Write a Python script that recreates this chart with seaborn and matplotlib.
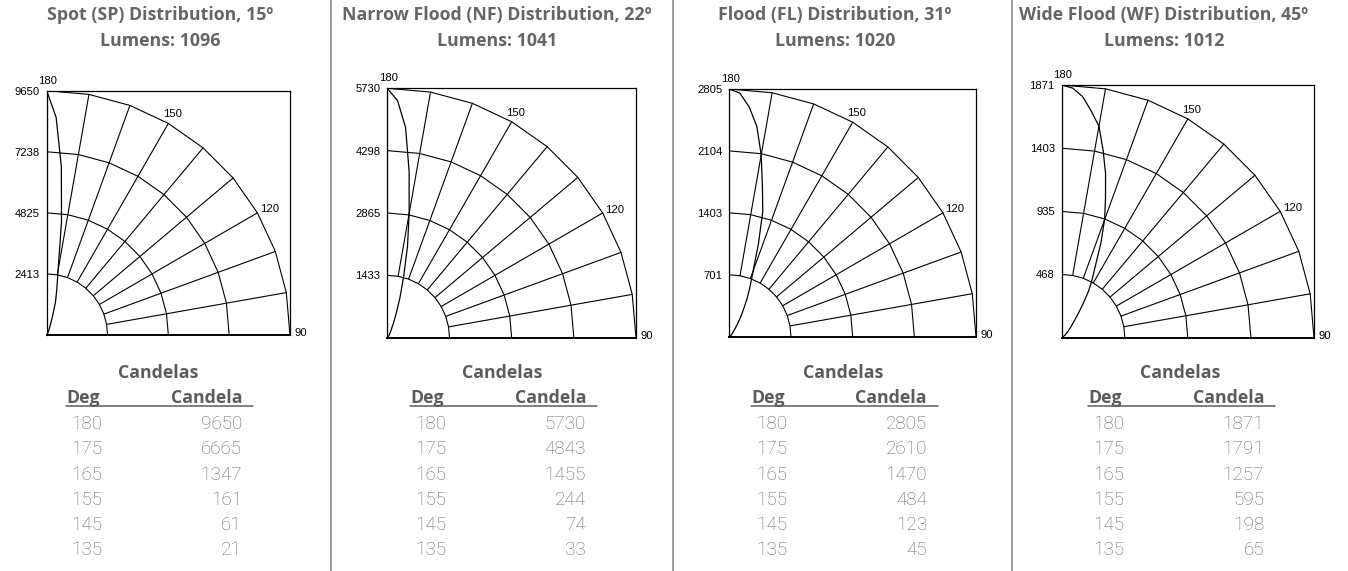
import numpy as np
import pandas as pd
import matplotlib
matplotlib.use("Agg")
import matplotlib.pyplot as plt
import seaborn as sns
from matplotlib.lines import Line2D

# ---------------- data ----------------
titles = ["Spot (SP) Distribution, 15º",
          "Narrow Flood (NF) Distribution, 22º",
          "Flood (FL) Distribution, 31º",
          "Wide Flood (WF) Distribution, 45º"]
lumens = [1096, 1041, 1020, 1012]

table_deg = [180, 175, 165, 155, 145, 135]
sp_candela = [9650, 6665, 1347, 161, 61, 21]
nf_candela = [5730, 4843, 1455, 244, 74, 33]
fl_candela = [2805, 2610, 1470, 484, 123, 45]
wf_candela = [1871, 1791, 1257, 595, 198, 65]

# photometric curves: table values plus values
curve_deg = [180, 177.5, 175, 172.5, 170, 167.5, 165, 162.5, 160, 157.5, 155,
             152.5, 150, 147.5, 145, 140, 135, 130, 120, 110, 100, 90]
sp_curve = [9650, 8600, 6665, 4500, 2600, 1850, 1347, 750, 420, 260, 161,
            120, 95, 75, 61, 35, 21, 12, 6, 3, 1, 0]
nf_curve = [5730, 5450, 4843, 3850, 2900, 2150, 1455, 980, 620, 390, 244,
            175, 130, 95, 74, 49, 33, 18, 8, 4, 1, 0]
fl_curve = [2805, 2760, 2610, 2400, 2090, 1740, 1470, 1100, 790, 620, 484,
            350, 260, 180, 123, 65, 45, 25, 10, 4, 1, 0]
wf_curve = [1871, 1850, 1791, 1690, 1590, 1420, 1257, 1080, 930, 760, 595,
            490, 400, 290, 198, 110, 65, 35, 12, 5, 1, 0]

# ring (tick) values for each polar grid
sp_rings = [2413, 4825, 7238, 9650]
nf_rings = [1433, 2865, 4298, 5730]
fl_rings = [701, 1403, 2104, 2805]
wf_rings = [468, 935, 1403, 1871]

grid_deg = [90, 100, 110, 120, 130, 140, 150, 160, 170, 180]
angle_labels = [180, 150, 120, 90]

tables = [sp_candela, nf_candela, fl_candela, wf_candela]
curves = [sp_curve, nf_curve, fl_curve, wf_curve]
rings = [sp_rings, nf_rings, fl_rings, wf_rings]

# ---------------- layout (pixels) ----------------
W, H = 1348, 571
sns.set_theme(style="white")
plt.rcParams["font.family"] = ["Liberation Sans", "DejaVu Sans"]

fig = plt.figure(figsize=(W / 100, H / 100), dpi=100)
fig.patch.set_facecolor("white")


def fx(px):
    return px / W


def fy(py):
    return 1 - py / H


boxes = [(46.7, 90.7, 290.0, 335.0),
         (387.3, 88.3, 636.0, 337.7),
         (729.3, 89.0, 976.0, 336.7),
         (1061.7, 85.0, 1314.0, 337.7)]
title_cx = [160, 497, 835, 1164]
deg_left = [66, 410, 751, 1088]
separators = [331, 673, 1012]

label_offsets = {180: (1, 10), 150: (4, 9), 120: (12, 3.5), 90: (11, 2)}

TITLE_COL = "#656565"
HEAD_COL = "#5c5c5c"
VAL_COL = "#686868"
title_font = dict(family=["Open Sans", "DejaVu Sans"], weight="bold")
val_font = dict(family=["Roboto", "DejaVu Sans"], weight="light")
AX_FS = 8.1


def polar_xy(deg, r):
    phi = np.radians(np.asarray(deg, dtype=float) - 90.0)
    r = np.asarray(r, dtype=float)
    return r * np.cos(phi), r * np.sin(phi)


for i in range(4):
    l, t, r_, b = boxes[i]
    ax = fig.add_axes([fx(l), fy(b), fx(r_ - l), (b - t) / H])
    rg = rings[i]
    rmax = rg[-1]

    # arcs (polylines through the 10-degree vertices)
    for rv in rg:
        x, y = polar_xy(grid_deg, [rv] * len(grid_deg))
        ax.plot(x, y, color="black", lw=0.8, solid_joinstyle="miter")
    # radial lines
    for d in grid_deg:
        x, y = polar_xy([d, d], [rg[0], rmax])
        ax.plot(x, y, color="black", lw=0.8)

    # candela curve
    cx, cy = polar_xy(curve_deg, curves[i])
    df = pd.DataFrame({"x": cx, "y": cy})
    sns.lineplot(data=df, x="x", y="y", sort=False, estimator=None,
                 color="black", lw=0.9, ax=ax)

    ax.set_xlim(0, rmax)
    ax.set_ylim(0, rmax)
    ax.set_xticks([])
    ax.set_yticks(rg)
    ax.set_yticklabels([str(v) for v in rg], fontsize=AX_FS, color="black")
    ax.tick_params(axis="y", length=0, pad=5.0)
    ax.set_xlabel("")
    ax.set_ylabel("")
    for s in ax.spines.values():
        s.set_visible(True)
        s.set_color("black")
        s.set_linewidth(0.9)
    ax.spines["bottom"].set_linewidth(1.4)

    for a in angle_labels:
        px, py = polar_xy([a], [rmax])
        dx, dy = label_offsets[a]
        ax.annotate(str(a), (px[0], py[0]), xytext=(dx, dy),
                    textcoords="offset pixels", ha="center", va="center",
                    fontsize=AX_FS, color="black", annotation_clip=False)

    # titles
    cxp = title_cx[i]
    fig.text(fx(cxp), fy(20), titles[i], ha="center", va="baseline",
             fontsize=12.8, color=TITLE_COL, **title_font)
    fig.text(fx(cxp), fy(45.7), f"Lumens: {lumens[i]}", ha="center",
             va="baseline", fontsize=12.8, color=TITLE_COL, **title_font)

    # table
    dl = deg_left[i]
    fig.text(fx(dl + 92), fy(377.7), "Candelas", ha="center", va="baseline",
             fontsize=12.8, color=HEAD_COL, **title_font)
    fig.text(fx(dl), fy(402.7), "Deg", ha="left", va="baseline",
             fontsize=12.8, color=HEAD_COL, **title_font)
    fig.text(fx(dl + 176), fy(402.7), "Candela", ha="right", va="baseline",
             fontsize=12.8, color=HEAD_COL, **title_font)
    fig.add_artist(Line2D([fx(dl), fx(dl + 187)], [fy(406), fy(406)],
                          transform=fig.transFigure, color="#5c5c5c", lw=1.1))
    for k, (dg, cd) in enumerate(zip(table_deg, tables[i])):
        yb = 429 + k * 25.25
        fig.text(fx(dl + 36), fy(yb), str(dg), ha="right", va="baseline",
                 fontsize=13.6, color=VAL_COL, **val_font)
        fig.text(fx(dl + 176), fy(yb), str(cd), ha="right", va="baseline",
                 fontsize=13.6, color=VAL_COL, **val_font)

for sx in separators:
    fig.add_artist(Line2D([fx(sx), fx(sx)], [0, 1], transform=fig.transFigure,
                          color="#8c8c8c", lw=1.2))

fig.savefig("out.png", dpi=100, facecolor="white")
